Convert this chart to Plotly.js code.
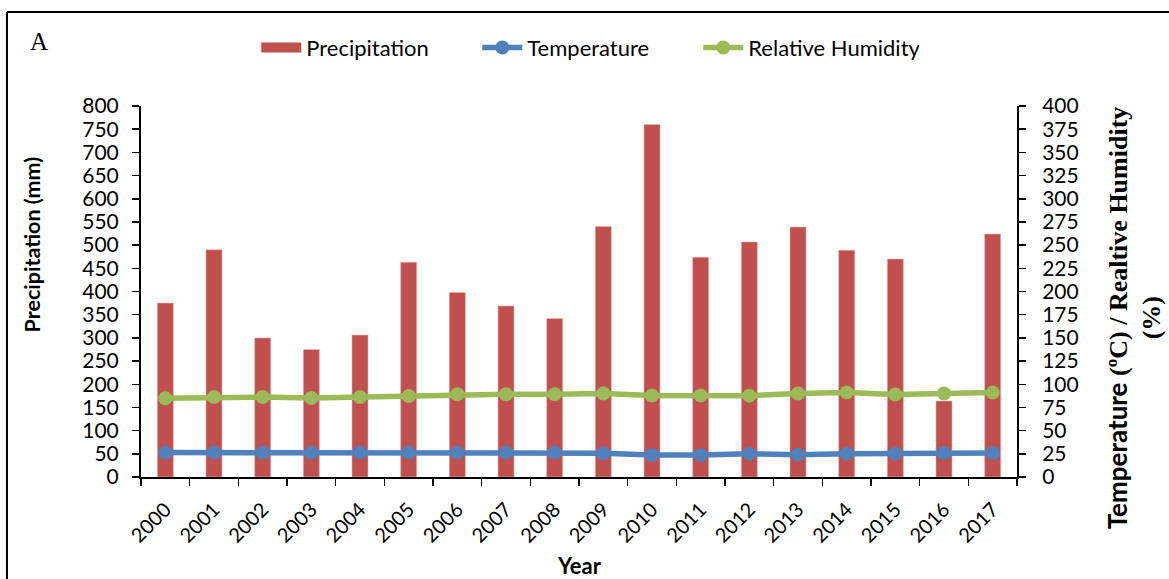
<!DOCTYPE html>
<html>
<head>
<meta charset="utf-8">
<script src="https://cdn.plot.ly/plotly-3.0.1.min.js"></script>
<style>
  html, body { margin: 0; padding: 0; background: #ffffff; }
  #chart { width: 1169px; height: 579px; }
</style>
</head>
<body>
<div id="chart"></div>
<script>
// ---- data ----
const years = ["2000","2001","2002","2003","2004","2005","2006","2007","2008",
               "2009","2010","2011","2012","2013","2014","2015","2016","2017"];
const precipitation = [375, 490, 300, 275, 306, 463, 398, 369, 342,
                       540, 760, 474, 507, 539, 489, 470, 164, 524];
const temperature = [26.3, 26.3, 26.3, 26.3, 26.3, 26.3, 26.3, 26.3, 26.3,
                     25.6, 23.7, 23.6, 25.2, 24.1, 25.2, 25.2, 25.8, 25.9];
const humidity = [84.8, 86.2, 86.2, 85.2, 86.3, 87.2, 89.2, 89.2, 89.2,
                  90.1, 87.8, 87.8, 87.7, 90.1, 91.2, 89.0, 90.1, 91.0];

const sansFamily = "Lato, 'Open Sans', sans-serif";
const serifFamily = "'Liberation Serif', 'DejaVu Serif', serif";
const tickFont = { family: sansFamily, size: 21, color: "#000" };

const traces = [
  {
    type: "bar", name: "Precipitation", x: years, y: precipitation,
    marker: { color: "#C0504D", line: { color: "#E6B9B8", width: 0.6 } },
    width: 0.33, yaxis: "y", showlegend: false
  },
  // legend-only entry so the key is drawn as a wide red block like the reference
  {
    type: "scatter", mode: "lines", name: "Precipitation", x: [null], y: [null],
    line: { color: "#C0504D", width: 13 }, yaxis: "y", hoverinfo: "skip"
  },
  {
    type: "scatter", mode: "lines+markers", name: "Temperature", x: years, y: temperature,
    line: { color: "#4F81BD", width: 5.5 },
    marker: { color: "#4F81BD", size: 14 }, yaxis: "y2"
  },
  {
    type: "scatter", mode: "lines+markers", name: "Relative Humidity", x: years, y: humidity,
    line: { color: "#9BBB59", width: 5.5 },
    marker: { color: "#9BBB59", size: 14 }, yaxis: "y2"
  }
];

const layout = {
  width: 1169, height: 579,
  margin: { l: 141, r: 152, t: 106, b: 102 },
  paper_bgcolor: "#ffffff", plot_bgcolor: "rgba(0,0,0,0)",
  font: tickFont,
  showlegend: true,
  legend: {
    orientation: "h", x: 0.1316, xanchor: "left", y: 1.157, yanchor: "middle",
    font: { family: sansFamily, size: 22, color: "#000" },
    bgcolor: "rgba(0,0,0,0)", itemwidth: 40,
    entrywidth: 166, entrywidthmode: "pixels"
  },
  xaxis: {
    type: "category", range: [-0.5, 17.5],
    showline: true, linecolor: "#000", linewidth: 2,
    ticks: "outside", ticklen: 7, tickcolor: "#000", tickwidth: 1.5,
    tickson: "boundaries", tickangle: -45, tickfont: { family: sansFamily, size: 20, color: "#000" },
    ticklabelstandoff: 11,
    showgrid: false, zeroline: false, fixedrange: true
  },
  yaxis: {
    range: [0, 800], dtick: 50, tick0: 0,
    showline: true, linecolor: "#000", linewidth: 2,
    ticks: "outside", ticklen: 7, tickcolor: "#000", tickwidth: 1.5,
    tickfont: tickFont, ticklabelstandoff: 9,
    showgrid: false, zeroline: false, fixedrange: true
  },
  yaxis2: {
    range: [0, 400], dtick: 25, tick0: 0, overlaying: "y", side: "right",
    showline: true, linecolor: "#000", linewidth: 2,
    ticks: "outside", ticklen: 7, tickcolor: "#000", tickwidth: 1.5,
    tickfont: tickFont, ticklabelstandoff: 12,
    showgrid: false, zeroline: false, fixedrange: true
  },
  annotations: [
    { text: "A", xref: "paper", yref: "paper", x: -0.117, y: 1.175,
      xanchor: "center", yanchor: "middle", showarrow: false,
      font: { family: serifFamily, size: 25, color: "#000" } },
    { text: "<b>Precipitation (mm)</b>", xref: "paper", yref: "paper", x: -0.124, y: 0.628,
      xanchor: "center", yanchor: "middle", textangle: -90, showarrow: false,
      font: { family: sansFamily, size: 21.5, color: "#000" } },
    { text: "<b>Year</b>", xref: "paper", yref: "paper", x: 0.5, y: -0.238,
      xanchor: "center", yanchor: "middle", showarrow: false,
      font: { family: sansFamily, size: 22, color: "#000" } },
    { text: "<b><span style=\"font-family:Lato\">Temperature</span> (ºC) / Realtive Humidity</b>",
      xref: "paper", yref: "paper", x: 1.1136, y: 0.429,
      xanchor: "center", yanchor: "middle", textangle: -90, showarrow: false,
      font: { family: serifFamily, size: 26, color: "#000" } },
    { text: "<b>(%)</b>", xref: "paper", yref: "paper", x: 1.1535, y: 0.429,
      xanchor: "center", yanchor: "middle", textangle: -90, showarrow: false,
      font: { family: serifFamily, size: 26, color: "#000" } }
  ],
  shapes: [
    { type: "line", xref: "paper", yref: "paper", x0: -0.1530, x1: -0.1530, y0: -0.5, y1: 1.2534,
      line: { color: "#000", width: 2 } },
    { type: "line", xref: "paper", yref: "paper", x0: -0.1530, x1: 1.5, y0: 1.2534, y1: 1.2534,
      line: { color: "#000", width: 2 } }
  ]
};

Plotly.newPlot("chart", traces, layout, { displayModeBar: false, staticPlot: true });
</script>
</body>
</html>
